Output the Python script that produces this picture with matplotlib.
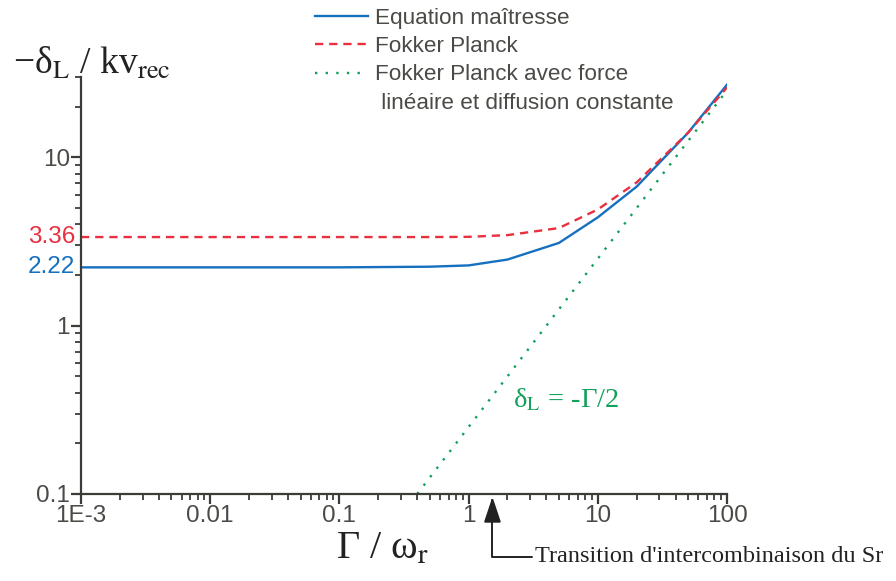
import numpy as np
import matplotlib
matplotlib.use('Agg')
import matplotlib.pyplot as plt
from matplotlib.lines import Line2D
from matplotlib.ticker import LogLocator, FixedLocator, FixedFormatter, NullFormatter

# data
gamma_me = [1e-3, 0.01, 0.1, 0.5, 1, 2, 5, 10, 20, 50, 100]
delta_me = [2.22, 2.22, 2.22, 2.24, 2.28, 2.47, 3.1, 4.4, 6.7, 14.0, 27.0]

gamma_fp = [1e-3, 0.01, 0.1, 0.5, 1, 2, 5, 10, 20, 50, 100]
delta_fp = [3.36, 3.36, 3.36, 3.36, 3.37, 3.45, 3.8, 4.9, 7.1, 14.0, 26.0]

gamma_lin = [0.4, 1, 10, 100]
delta_lin = [0.1, 0.25, 2.5, 25.0]

xticks = [1e-3, 0.01, 0.1, 1, 10, 100]
xtick_labels = ['1E-3', '0.01', '0.1', '1', '10', '100']
yticks = [0.1, 1, 10]
ytick_labels = ['0.1', '1', '10']

blue = '#1570bf'
red = '#e8303f'
green = '#12a05a'
axis_col = '#3c3c37'
text_col = '#4a4a46'

plt.rcParams['font.family'] = ['Liberation Sans', 'DejaVu Sans']
plt.rcParams['mathtext.fontset'] = 'stix'

fig = plt.figure(figsize=(8.96, 5.81), dpi=100)
ax = fig.add_axes([81 / 896, 1 - 494 / 581, (727 - 81) / 896, (494 - 77) / 581])

l1, = ax.plot(gamma_me, delta_me, color=blue, lw=1.7)
l2, = ax.plot(gamma_fp, delta_fp, color=red, lw=1.7, ls=(0, (3.5, 2.5)))
l3, = ax.plot(gamma_lin, delta_lin, color=green, lw=1.7, ls=(0, (1, 3.5)))

ax.set_xscale('log')
ax.set_yscale('log')
ax.set_xlim(1e-3, 100)
ax.set_ylim(0.1, 30)

for s in ['top', 'right']:
    ax.spines[s].set_visible(False)
for s in ['left', 'bottom']:
    ax.spines[s].set_color(axis_col)
    ax.spines[s].set_linewidth(1.6)

ax.xaxis.set_major_locator(FixedLocator(xticks))
ax.xaxis.set_major_formatter(FixedFormatter(xtick_labels))
ax.yaxis.set_major_locator(FixedLocator(yticks))
ax.yaxis.set_major_formatter(FixedFormatter(ytick_labels))
ax.xaxis.set_minor_locator(LogLocator(base=10, subs=np.arange(2, 10)))
ax.yaxis.set_minor_locator(LogLocator(base=10, subs=np.arange(2, 10)))
ax.xaxis.set_minor_formatter(NullFormatter())
ax.yaxis.set_minor_formatter(NullFormatter())
ax.tick_params(which='major', length=7, width=1.6, color=axis_col,
               labelsize=17.5, labelcolor=text_col, pad=1)
ax.tick_params(which='minor', length=4, width=1.3, color=axis_col)

# value labels on the y axis
ax.text(-0.009, 3.36, '3.36', color=red, fontsize=17.5, ha='right', va='center',
        transform=ax.get_yaxis_transform())
ax.text(-0.009, 2.22, '2.22', color=blue, fontsize=17.5, ha='right', va='center',
        transform=ax.get_yaxis_transform())

# axis labels
fig.text(13 / 896, 1 - 64 / 581, '−δ$_{\\rm L}$ / kv$_{\\rm rec}$', fontsize=27,
         family='Liberation Serif', color='#222222', ha='left', va='center')
fig.text(336 / 896, 1 - 549 / 581, 'Γ / ω$_{\\rm r}$', fontsize=29,
         family='Liberation Serif', color='#222222', ha='left', va='center')

ax.text(2.2, 0.36, 'δ$_{\\rm L}$ = -Γ/2', fontsize=20.5, family='Liberation Serif',
        color=green, ha='left', va='center')

ax.annotate("Transition d'intercombinaison du Sr", xy=(1.53, 0.1), xycoords='data',
            xytext=(535, 581 - 557), textcoords='figure pixels',
            fontsize=17.5, family='Liberation Serif', color='#222222',
            ha='left', va='center', annotation_clip=False,
            arrowprops=dict(arrowstyle='-|>,head_length=0.9,head_width=0.3',
                            connectionstyle='angle,angleA=0,angleB=90,rad=0',
                            color='#222222', lw=1.4, relpos=(0, 0.5),
                            shrinkA=0, shrinkB=2))

# legend
blank = Line2D([], [], color='none')
leg = fig.legend([l1, l2, l3, blank],
                 ['Equation maîtresse', 'Fokker Planck', 'Fokker Planck avec force',
                  ' linéaire et diffusion constante'],
                 loc='upper left', bbox_to_anchor=(315 / 896, 1 - 8 / 581),
                 frameon=False, fontsize=16.2, handlelength=2.35, handletextpad=0.3,
                 labelspacing=0.32, borderpad=0, borderaxespad=0)
for t in leg.get_texts():
    t.set_color(text_col)

fig.savefig('out.png', dpi=100)
